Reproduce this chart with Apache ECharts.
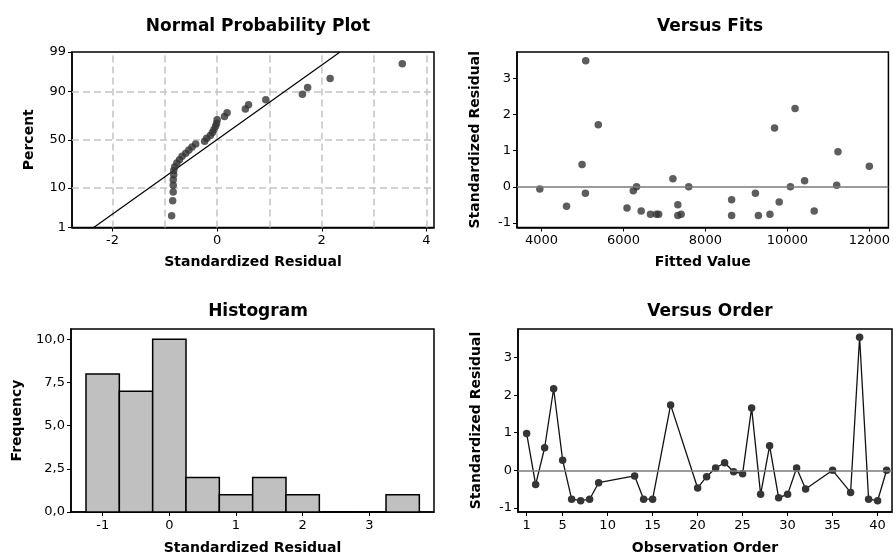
<!DOCTYPE html>
<html><head><meta charset="utf-8">
<script src="https://cdn.jsdelivr.net/npm/echarts@6/dist/echarts.min.js"></script>
<style>html,body{margin:0;padding:0;background:#fff}#c{width:893px;height:556px}</style>
</head><body><div id="c"></div>
<script>
// ---------- Normal probability plot ----------
const nppResid = [-0.87,-0.85,-0.84,-0.84,-0.84,-0.83,-0.83,-0.81,-0.77,-0.72,-0.67,-0.60,-0.54,-0.48,-0.41,-0.24,-0.20,-0.13,-0.09,-0.06,-0.03,-0.01,0.00,0.14,0.19,0.54,0.60,0.93,1.63,1.73,2.16,3.54];
const nppPercent = [2.2,5.3,8.3,11.4,14.5,17.6,20.7,23.8,26.9,29.9,33.0,36.1,39.2,42.3,45.4,48.5,51.5,54.6,57.7,60.8,63.9,67.0,70.1,73.1,76.2,79.3,82.4,85.5,88.6,91.7,94.8,97.8];
const pctTicks = [1,10,50,90,99];
const pctGrid = [10,50,90];
const nppXTicks = [-2,0,2,4];
const nppXGrid = [-2,-1,0,1,2,3,4];
const fitLineResid = [-2.36,2.35];
const fitLinePct = [1,99];

// ---------- Versus fits ----------
const fitsFitted = [3960,4612,4991,5080,5072,5386,6087,6240,6320,6433,6659,6804,6860,7207,7327,7327,7408,7593,8640,8640,9220,9293,9575,9688,9801,10075,10188,10421,10655,11203,11235,12000];
const fitsResid  = [-0.06,-0.54,0.62,3.50,-0.18,1.72,-0.59,-0.11,0.00,-0.67,-0.76,-0.76,-0.76,0.22,-0.50,-0.80,-0.76,0.00,-0.36,-0.80,-0.18,-0.80,-0.76,1.63,-0.42,0.00,2.17,0.17,-0.67,0.04,0.97,0.57];
const fitsXTicks = [4000,6000,8000,10000,12000];
const residTicks = [-1,0,1,2,3];

// ---------- Histogram ----------
const histEdges = [-1.25,-0.75,-0.25,0.25,0.75,1.25,1.75,2.25,2.75,3.25,3.75];
const histCounts = [8,7,10,2,1,2,1,0,0,1];
const histXTicks = [-1,0,1,2,3];
const freqTicks = [0,2.5,5,7.5,10];

// ---------- Versus order ----------
const obsOrder = [1,2,3,4,5,6,7,8,9,13,14,15,17,20,21,22,23,24,25,26,27,28,29,30,31,32,35,37,38,39,40,41];
const orderResid = [0.98,-0.38,0.60,2.17,0.27,-0.77,-0.81,-0.77,-0.33,-0.15,-0.77,-0.77,1.74,-0.47,-0.17,0.06,0.20,-0.04,-0.09,1.66,-0.64,0.65,-0.73,-0.64,0.06,-0.50,0.00,-0.59,3.54,-0.77,-0.81,0.00];
const orderXTicks = [1,5,10,15,20,25,30,35,40];

// inverse normal CDF (probability-paper scale)
function probit(p){
  const a=[-39.69683028665376,220.9460984245205,-275.9285104469687,138.3577518672690,-30.66479806614716,2.506628277459239];
  const b=[-54.47609879822406,161.5858368580409,-155.6989798598866,66.80131188771972,-13.28068155288572];
  const c=[-0.007784894002430293,-0.3223964580411365,-2.400758277161838,-2.549732539343734,4.374664141464968,2.938163982698783];
  const d=[0.007784695709041462,0.3224671290700398,2.445134137142996,3.754408661907416];
  const pl=0.02425, ph=1-pl; let q,r;
  if(p<pl){q=Math.sqrt(-2*Math.log(p));return (((((c[0]*q+c[1])*q+c[2])*q+c[3])*q+c[4])*q+c[5])/((((d[0]*q+d[1])*q+d[2])*q+d[3])*q+1);}
  if(p<=ph){q=p-0.5;r=q*q;return (((((a[0]*r+a[1])*r+a[2])*r+a[3])*r+a[4])*r+a[5])*q/(((((b[0]*r+b[1])*r+b[2])*r+b[3])*r+b[4])*r+1);}
  q=Math.sqrt(-2*Math.log(1-p));return -(((((c[0]*q+c[1])*q+c[2])*q+c[3])*q+c[4])*q+c[5])/((((d[0]*q+d[1])*q+d[2])*q+d[3])*q+1);
}
const pz = p => probit(p/100);

const FONT = 'DejaVu Sans';
const dec = v => String(v).replace('.', ',');

function xAxisCfg(grid, min, max, ticks, name, gap){
  return {
    type:'value', gridIndex:grid, min, max,
    name, nameLocation:'middle', nameGap:gap,
    nameTextStyle:{fontFamily:FONT,fontWeight:'bold',fontSize:14,color:'#000'},
    axisLine:{show:true,onZero:false,lineStyle:{color:'#000',width:1.5}},
    axisTick:{show:true,length:4,customValues:ticks,lineStyle:{color:'#000',width:1}},
    axisLabel:{customValues:ticks,margin:7,fontFamily:FONT,fontSize:13,color:'#000',formatter:v=>String(v)},
    splitLine:{show:false}
  };
}
function yAxisCfg(grid, min, max, ticks, name, gap, fmt){
  return {
    type:'value', gridIndex:grid, min, max,
    name, nameLocation:'middle', nameGap:gap,
    nameTextStyle:{fontFamily:FONT,fontWeight:'bold',fontSize:14,color:'#000'},
    axisLine:{show:true,onZero:false,lineStyle:{color:'#000',width:1.5}},
    axisTick:{show:true,length:4,customValues:ticks,lineStyle:{color:'#000',width:1}},
    axisLabel:{customValues:ticks,margin:6,fontFamily:FONT,fontSize:13,color:'#000',formatter:fmt||(v=>String(v))},
    splitLine:{show:false}
  };
}
function titleCfg(text, x, top){
  return {text, left:x, top, textAlign:'center',
    textStyle:{fontFamily:FONT,fontWeight:'bold',fontSize:17,color:'#000'}};
}

const gridStyle = {show:true,borderColor:'#000',borderWidth:1.5,backgroundColor:'#fff'};
const grids = [
  Object.assign({left:72, top:52, width:362, height:175.5}, gridStyle),
  Object.assign({left:517, top:52, right:1, height:175.5}, gridStyle),
  Object.assign({left:71, top:329, width:363, height:183.5}, gridStyle),
  Object.assign({left:518, top:329, right:1, height:183.5}, gridStyle)
];

const dotColor = '#353535';
const dashGrid = {type:[7,4],color:'#c4c4c4',width:1.5};
const refLine = {type:'solid',color:'#7a7a7a',width:1.5};

const option = {
  animation:false,
  backgroundColor:'#fff',
  title:[
    titleCfg('Normal Probability Plot', 253, 13),
    titleCfg('Versus Fits', 705, 13),
    titleCfg('Histogram', 253, 298),
    titleCfg('Versus Order', 705, 298)
  ],
  grid:grids,
  xAxis:[
    xAxisCfg(0, -2.775, 4.146, nppXTicks, 'Standardized Residual', 28),
    xAxisCfg(1, 3403, 12466, fitsXTicks, 'Fitted Value', 28),
    xAxisCfg(2, -1.475, 3.97, histXTicks, 'Standardized Residual', 29),
    xAxisCfg(3, 0.04, 41.6, orderXTicks, 'Observation Order', 29)
  ],
  yAxis:[
    yAxisCfg(0, pz(1), pz(99), pctTicks.map(pz), 'Percent', 36, v => {
      let best = pctTicks[0];
      pctTicks.forEach(p => { if (Math.abs(pz(p)-v) < Math.abs(pz(best)-v)) best = p; });
      return String(best);
    }),
    yAxisCfg(1, -1.13, 3.74, residTicks, 'Standardized Residual', 35),
    yAxisCfg(2, 0, 10.6, freqTicks, 'Frequency', 47, v => dec(v.toFixed(1))),
    yAxisCfg(3, -1.11, 3.76, residTicks, 'Standardized Residual', 35)
  ],
  series:[
    {
      type:'line', xAxisIndex:0, yAxisIndex:0, z:2,
      data: fitLineResid.map((x,i)=>[x, pz(fitLinePct[i])]),
      symbol:'none', lineStyle:{color:'#000',width:1.2},
      clip:true, silent:true,
      markLine:{
        silent:true, symbol:['none','none'], label:{show:false}, lineStyle:dashGrid, z:1,
        data: nppXGrid.map(x=>({xAxis:x})).concat(pctGrid.map(p=>({yAxis:pz(p)})))
      }
    },
    {
      type:'scatter', xAxisIndex:0, yAxisIndex:0, z:3,
      data: nppResid.map((x,i)=>[x, pz(nppPercent[i])]),
      symbol:'circle', symbolSize:7.5, itemStyle:{color:dotColor}
    },
    {
      type:'scatter', xAxisIndex:1, yAxisIndex:1, z:3,
      data: fitsFitted.map((x,i)=>[x, fitsResid[i]]),
      symbol:'circle', symbolSize:7.5, itemStyle:{color:dotColor},
      markLine:{silent:true, symbol:['none','none'], label:{show:false}, lineStyle:refLine, data:[{yAxis:0}]}
    },
    {
      type:'custom', xAxisIndex:2, yAxisIndex:2, z:2,
      data: histCounts.map((c,i)=>[histEdges[i], histEdges[i+1], c]),
      encode:{x:[0,1], y:2},
      renderItem:(params, api) => {
        const p0 = api.coord([api.value(0), api.value(2)]);
        const p1 = api.coord([api.value(1), 0]);
        return {type:'rect', shape:{x:p0[0], y:p0[1], width:p1[0]-p0[0], height:p1[1]-p0[1]},
          style:{fill:'#c0c0c0', stroke:'#000', lineWidth:1.5}};
      }
    },
    {
      type:'line', xAxisIndex:3, yAxisIndex:3, z:3,
      data: obsOrder.map((x,i)=>[x, orderResid[i]]),
      symbol:'circle', symbolSize:7.5, showAllSymbol:true,
      itemStyle:{color:dotColor}, lineStyle:{color:'#111',width:1.3},
      markLine:{silent:true, symbol:['none','none'], label:{show:false}, lineStyle:refLine, data:[{yAxis:0}]}
    }
  ]
};

const chart = echarts.init(document.getElementById('c'), null, {renderer:'canvas'});
chart.setOption(option);
</script>
</body></html>
